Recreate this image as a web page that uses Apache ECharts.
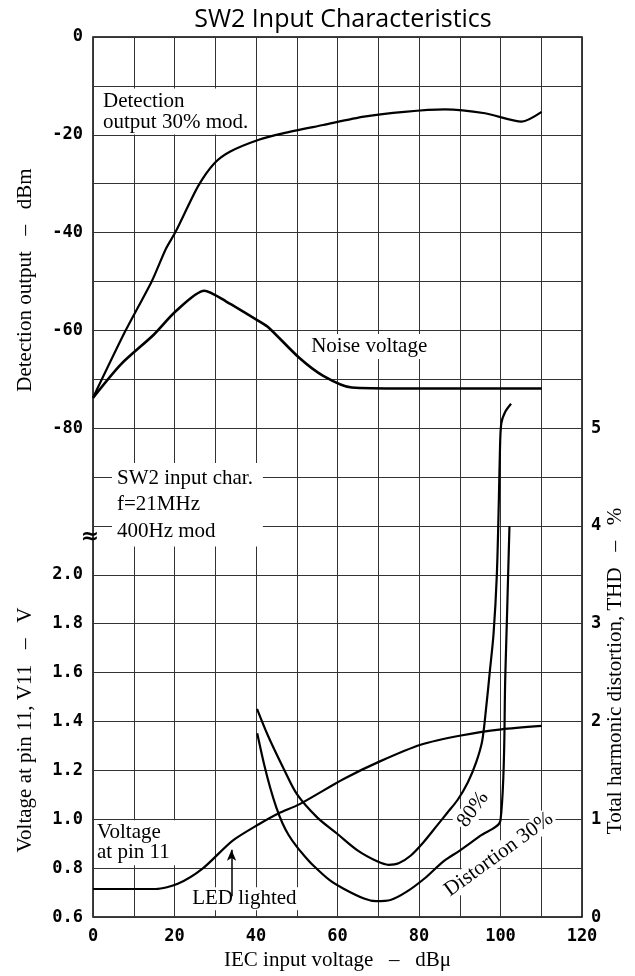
<!DOCTYPE html>
<html>
<head>
<meta charset="utf-8">
<title>SW2 Input Characteristics</title>
<script src="https://cdn.jsdelivr.net/npm/echarts@6/dist/echarts.min.js"></script>
<style>
html, body { margin: 0; padding: 0; background: #fff; }
#main { width: 635px; height: 976px; }
</style>
</head>
<body>
<div id="main"></div>
<script>
// tick labels
var xTicks = [0, 20, 40, 60, 80, 100, 120];
var dbmTicks = [0, -20, -40, -60, -80];
var voltTicks = [0.6, 0.8, 1.0, 1.2, 1.4, 1.6, 1.8, 2.0];
var thdTicks = [0, 1, 2, 3, 4, 5];

// detection output 30% mod. (dBm, left upper scale)
var detX   = [0, 7.9, 14.4, 17.9, 20.3, 25.8, 29.8, 33.7, 40.7, 46.6, 56.5, 66.5, 76.4, 86.3, 96.2, 105.2, 110.1];
var detDbm = [-73.8, -60.2, -50, -43.3, -39.8, -30.5, -25.8, -23.4, -21.0, -19.7, -18.0, -16.3, -15.3, -14.8, -15.6, -17.3, -15.3];

// noise voltage (dBm)
var noiseX   = [0, 6.9, 14.9, 20.3, 27.3, 32.7, 40.7, 43.2, 50.6, 56.5, 63.5, 76.4, 110.1];
var noiseDbm = [-73.8, -66.9, -60.9, -56.1, -51.9, -54.1, -58.1, -59.5, -65.6, -69.3, -71.7, -71.9, -71.9];

// voltage at pin 11 (V, left lower scale)
var voltX = [0, 15.4, 20.8, 26.8, 34.2, 40.7, 45.6, 50.6, 61.5, 70.4, 80.4, 90.3, 100.2, 110.1];
var voltV = [0.715, 0.715, 0.736, 0.797, 0.912, 0.98, 1.025, 1.061, 1.165, 1.237, 1.305, 1.343, 1.368, 1.382];

// distortion 80% (THD %, right scale)
var d80X   = [40.25, 43, 47, 50, 55, 60, 65, 70, 72.5, 75, 78, 81, 84.5, 87, 89.5, 92, 94, 95.5, 96.5, 97.4, 98.3, 99.1, 99.6, 99.85, 100.2, 101.2, 102.6];
var d80Thd = [2.13, 1.85, 1.5, 1.26, 1.02, 0.85, 0.68, 0.565, 0.535, 0.55, 0.63, 0.76, 0.94, 1.07, 1.2, 1.38, 1.58, 1.8, 2.15, 2.52, 2.9, 3.5, 4.27, 4.75, 5.05, 5.17, 5.25];

// distortion 30% (THD %)
var d30X   = [40.3, 42, 43.5, 45, 46.5, 48, 50, 52, 54, 58, 61.5, 66.5, 69.5, 73, 77, 81.5, 86, 90, 95, 100, 101.2, 102.2];
var d30Thd = [1.88, 1.56, 1.32, 1.12, 0.96, 0.84, 0.72, 0.62, 0.53, 0.38, 0.29, 0.19, 0.163, 0.175, 0.26, 0.4, 0.57, 0.68, 0.83, 0.99, 2.5, 4.0];

// LED lighted arrow (x, from V, to V)
var ledX = 34;
var ledV = [0.685, 0.875];

function pairs(xs, ys) {
    return xs.map(function (x, i) { return [x, ys[i]]; });
}

var chart = echarts.init(document.getElementById('main'));

var gridColor = '#333';
var tickFont = { fontFamily: 'DejaVu Sans Mono', fontWeight: 'bold', fontSize: 17, color: '#000' };
var serif = 'Liberation Serif';

function curve(name, yIdx, data, width, smooth) {
    return {
        name: name,
        type: 'line',
        yAxisIndex: yIdx,
        data: data,
        showSymbol: false,
        symbol: 'none',
        smooth: smooth == null ? 0.25 : smooth,
        silent: true,
        z: 3,
        lineStyle: { color: '#000', width: width || 2.2 }
    };
}

var volt = curve('Voltage at pin 11', 1, pairs(voltX, voltV));
volt.markLine = {
    silent: true,
    symbol: ['none', 'arrow'],
    symbolSize: [7, 11],
    label: { show: false },
    lineStyle: { color: '#000', width: 1.5, type: 'solid' },
    data: [[{ coord: [ledX, ledV[0]] }, { coord: [ledX, ledV[1]] }]]
};

chart.setOption({
    animation: false,
    backgroundColor: '#fff',
    title: {
        text: 'SW2 Input Characteristics',
        left: 338,
        top: 2,
        textAlign: 'center',
        textStyle: { fontFamily: 'Open Sans', fontWeight: 'normal', fontSize: 25, color: '#000' }
    },
    grid: { left: 93, right: 53, top: 37, bottom: 52, show: true, borderColor: '#000', borderWidth: 1.5 },
    xAxis: {
        type: 'value', min: 0, max: 120, interval: 10,
        axisLine: { show: false }, axisTick: { show: false },
        splitLine: { show: true, lineStyle: { color: gridColor, width: 1 } },
        axisLabel: Object.assign({ margin: 11, formatter: function (v) {
            return xTicks.indexOf(v) >= 0 ? String(v) : '';
        } }, tickFont),
        name: 'IEC input voltage   \u2013   dB\u03bc',
        nameLocation: 'middle',
        nameGap: 28,
        nameTextStyle: { fontFamily: serif, fontSize: 21, color: '#000' }
    },
    yAxis: [{
        type: 'value', min: -180, max: 0, interval: 10, position: 'left',
        axisLine: { show: false }, axisTick: { show: false },
        splitLine: { show: true, lineStyle: { color: gridColor, width: 1 } },
        axisLabel: Object.assign({ margin: 10, formatter: function (v) {
            return dbmTicks.indexOf(v) >= 0 ? String(v) : '';
        } }, tickFont)
    }, {
        type: 'value', min: 0.6, max: 4.2, interval: 0.2, position: 'left', offset: 0,
        axisLine: { show: false }, axisTick: { show: false }, splitLine: { show: false },
        axisLabel: Object.assign({ margin: 10, formatter: function (v) {
            var r = Math.round(v * 10) / 10;
            return voltTicks.indexOf(r) >= 0 ? r.toFixed(1) : '';
        } }, tickFont)
    }, {
        type: 'value', min: 0, max: 9, interval: 0.5, position: 'right',
        axisLine: { show: false }, axisTick: { show: false }, splitLine: { show: false },
        axisLabel: Object.assign({ margin: 9, formatter: function (v) {
            return thdTicks.indexOf(v) >= 0 ? String(v) : '';
        } }, tickFont)
    }],
    series: [
        curve('Detection output 30% mod.', 0, pairs(detX, detDbm), 2.2),
        curve('Noise voltage', 0, pairs(noiseX, noiseDbm), 2.6),
        volt,
        curve('Distortion 80%', 2, pairs(d80X, d80Thd), 2.2, 0.3),
        curve('Distortion 30%', 2, pairs(d30X, d30Thd), 2.2, 0.3)
    ]
});

// annotations, placed through the axes
function px(yIdx, x, y) {
    return chart.convertToPixel({ xAxisIndex: 0, yAxisIndex: yIdx }, [x, y]);
}
function note(text, pos, opts) {
    opts = opts || {};
    return {
        type: 'text',
        x: pos[0] + (opts.dx || 0),
        y: pos[1] + (opts.dy || 0),
        rotation: opts.rotation || 0,
        z: 1,
        silent: true,
        style: {
            text: text,
            fontFamily: opts.family || serif,
            fontSize: opts.size || 21,
            fontWeight: opts.weight || 'normal',
            fill: '#000',
            lineHeight: opts.lineHeight,
            align: opts.align || 'left',
            verticalAlign: opts.valign || 'top',
            backgroundColor: opts.bg === false ? null : '#fff',
            padding: opts.padding || [1, 3]
        }
    };
}

var graphics = [
    note('Detection\noutput 30% mod.', px(0, 1.47, -10.55), { lineHeight: 21, padding: [2, 4, 2, 4] }),
    note('Noise voltage', px(0, 52.8, -63.3), { valign: 'middle', padding: [2, 3] }),
    note('SW2 input char.\nf=21MHz\n400Hz mod', px(0, 4.66, -87.15), { lineHeight: 26.5, padding: [2, 10, 2, 5] }),
    note('Voltage\nat pin 11', px(1, 0.25, 0.996), { lineHeight: 20, padding: [2, 14, 3, 3] }),
    note('LED lighted', px(1, 23.6, 0.675), { valign: 'middle', padding: [1, 3] }),
    note('80%', px(2, 93.25, 1.10), { align: 'center', valign: 'middle', rotation: 54 * Math.PI / 180, padding: [0, 2] }),
    note('Distortion 30%', px(2, 99.6, 0.64), { align: 'center', valign: 'middle', rotation: 36 * Math.PI / 180, padding: [0, 2] }),
    note('\u2248', px(1, 0, 2.2), { dx: -3, dy: 11, align: 'center', valign: 'middle', family: 'DejaVu Sans', size: 22, weight: 'bold', bg: false }),
    // axis titles
    note('Detection output   \u2013   dBm', [25, 280], { align: 'center', valign: 'middle', rotation: Math.PI / 2, bg: false }),
    note('Voltage at pin 11, V11   \u2013   V', [25, 730], { align: 'center', valign: 'middle', rotation: Math.PI / 2, bg: false }),
    note('Total harmonic distortion, THD   \u2013   %', [615, 671], { align: 'center', valign: 'middle', rotation: Math.PI / 2, bg: false })
];

chart.setOption({ graphic: graphics });
</script>
</body>
</html>
